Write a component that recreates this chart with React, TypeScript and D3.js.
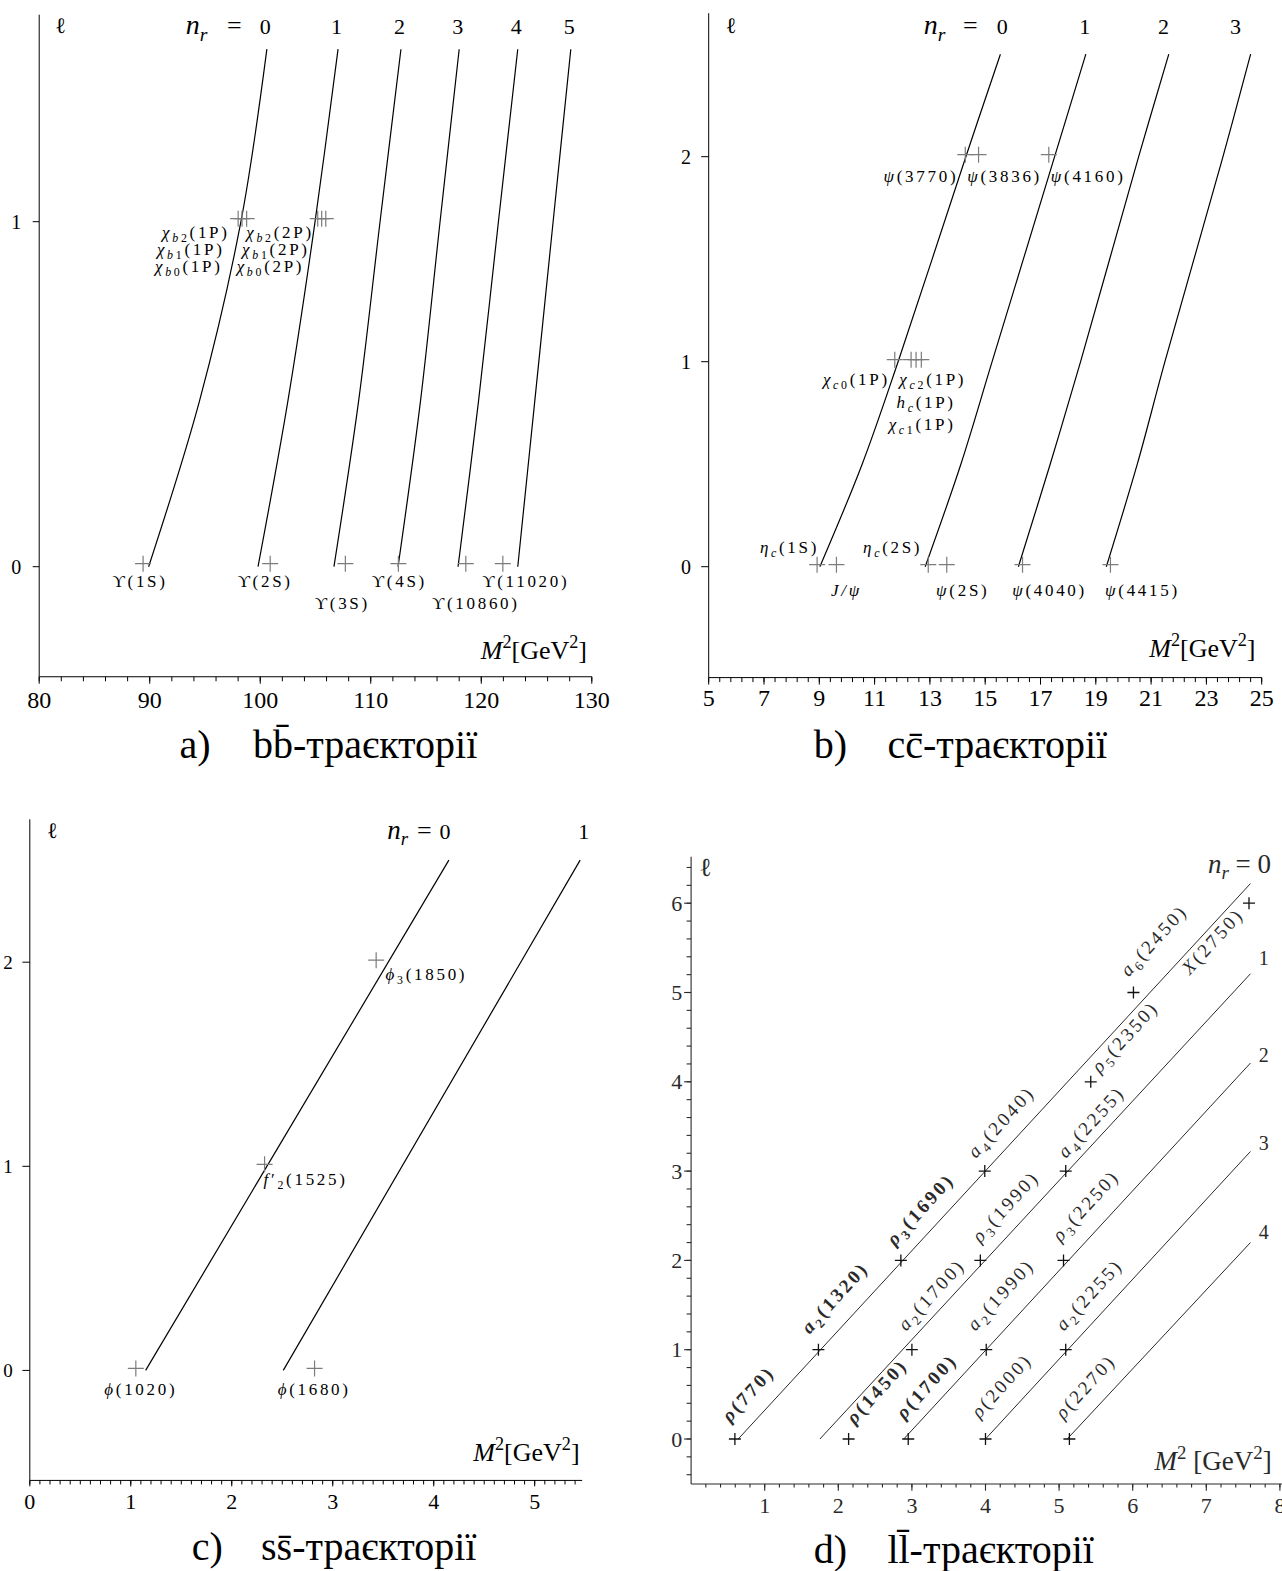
import React from 'react';
import * as d3 from 'd3';

const SERIF = '"Liberation Serif", "DejaVu Serif", serif';

// ---------------- a) b b-bar ----------------
const bbEll = [0, 0.48, 1, 1.5];
const bbTraj = [
  [89.9, 94.5, 98.25, 100.6],
  [99.8, 102.5, 104.96, 107.04],
  [106.67, 108.9, 110.84, 112.73],
  [112.47, 114.5, 116.27, 118.0],
  [117.9, 119.75, 121.55, 123.3],
  [123.3, 124.84, 126.5, 128.1],
];
const bbNr = ['0', '1', '2', '3', '4', '5'];
const bbNames = [
  'ϒ(1S)', 'ϒ(2S)', 'ϒ(3S)', 'ϒ(4S)', 'ϒ(10860)', 'ϒ(11020)',
  '$χ$_{$b$0}(1P)', '$χ$_{$b$1}(1P)', '$χ$_{$b$2}(1P)',
  '$χ$_{$b$0}(2P)', '$χ$_{$b$1}(2P)', '$χ$_{$b$2}(2P)',
];
const bbM2 = [89.4, 100.9, 107.7, 112.5, 118.6, 121.95, 98.0, 98.35, 98.77, 105.2, 105.56, 105.93];
const bbL = [0, 0, 0, 0, 0, 0, 1, 1, 1, 1, 1, 1];

// ---------------- b) c c-bar ----------------
const ccEll = [0, 0.5, 1, 2, 2.5];
const ccTraj = [
  [9.02, 10.55, 11.85, 14.3, 15.55],
  [12.83, 14.12, 15.25, 17.51, 18.64],
  [16.2, 17.35, 18.45, 20.55, 21.64],
  [19.38, 20.5, 21.5, 23.6, 24.6],
];
const ccNr = ['0', '1', '2', '3'];
const ccNrAt = [15.62, 18.6, 21.45, 24.05];
const ccNames = [
  '$η$_{$c$}(1S)', '$J/ψ$', '$η$_{$c$}(2S)', '$ψ$(2S)', '$ψ$(4040)', '$ψ$(4415)',
  '$χ$_{$c$0}(1P)', '$χ$_{$c$1}(1P)', '$h$_{$c$}(1P)', '$χ$_{$c$2}(1P)',
  '$ψ$(3770)', '$ψ$(3836)', '$ψ$(4160)',
];
const ccM2 = [8.92, 9.62, 12.94, 13.61, 16.35, 19.53, 11.73, 12.32, 12.5, 12.69, 14.28, 14.76, 17.3];
const ccL = [0, 0, 0, 0, 0, 0, 1, 1, 1, 1, 2, 2, 2];

// ---------------- c) s s-bar ----------------
const ssStart = [1.147, 2.51];
const ssEnd = [4.15, 5.45];
const ssEndEll = [2.5, 2.5];
const ssNames = ['$ϕ$(1020)', '$ϕ$(1680)', '$f$′_{2}(1525)', '$ϕ$_{3}(1850)'];
const ssM2 = [1.05, 2.82, 2.325, 3.43];
const ssL = [0, 0, 1, 2];

// ---------------- d) l l-bar ----------------
const llStart = [0.64, 1.75, 2.89, 4.0, 5.11];
const llEnd = [7.6, 7.6, 7.6, 7.6, 7.6];
const llEndEll = [6.22, 5.21, 4.21, 3.22, 2.2];
const llNr = ['1', '2', '3', '4'];
const llNames = [
  '$ρ$(770)', '$ρ$(1450)', '$ρ$(1700)', '$ρ$(2000)', '$ρ$(2270)',
  '$a$_{2}(1320)', '$a$_{2}(1700)', '$a$_{2}(1990)', '$a$_{2}(2255)',
  '$ρ$_{3}(1690)', '$ρ$_{3}(1990)', '$ρ$_{3}(2250)',
  '$a$_{4}(2040)', '$a$_{4}(2255)', '$ρ$_{5}(2350)', '$a$_{6}(2450)', '$X$(2750)',
];
const llM2 = [0.595, 2.14, 2.95, 4.0, 5.14, 1.73, 3.0, 4.01, 5.09, 2.85, 3.93, 5.06, 3.99, 5.09, 5.43, 6.01, 7.58];
const llL = [0, 0, 0, 0, 0, 1, 1, 1, 1, 2, 2, 2, 3, 3, 4, 5, 6];
const llBold = [1, 1, 1, 0, 0, 1, 0, 0, 0, 1, 0, 0, 0, 0, 0, 0, 0];

// label placement (px offsets from the point)
const bbPlace: [number, number, string][] = [
  [-3, 20, 'middle'], [-5, 20, 'middle'], [-3, 42, 'middle'], [1, 20, 'middle'], [10, 42, 'middle'], [23, 20, 'middle'],
  [-15.6, 50, 'end'], [-17.5, 33, 'end'], [-17, 16, 'end'],
  [-13.5, 50, 'end'], [-12, 33, 'end'], [-12, 16, 'end'],
];
const ccPlace: [number, number, string][] = [
  [2, -14, 'end'], [10, 29, 'middle'], [-6, -14, 'end'], [16, 29, 'middle'], [27, 29, 'middle'], [32, 29, 'middle'],
  [-5, 23, 'end'], [11, 68, 'middle'], [10, 46, 'middle'], [-22, 23, 'start'],
  [-7, 25, 'end'], [-11.4, 25, 'start'], [2, 25, 'start'],
];
const ssPlace: [number, number, string][] = [
  [5, 24.6, 'middle'], [-0.4, 24.6, 'middle'], [-1, 19, 'start'], [9.4, 18, 'start'],
];
const llPlace: [number, number, string][] = [
  [-5, -16, 'start'], [6, -14, 'start'], [-4, -19, 'start'], [-6, -20, 'start'], [-6, -19, 'start'],
  [-9, -15, 'start'], [-6, -18, 'start'], [-11, -18, 'start'], [-2, -18, 'start'],
  [-6, -14, 'start'], [0, -17, 'start'], [-3, -18, 'start'],
  [-9, -12, 'start'], [0, -12, 'start'], [9, -8, 'start'], [-5, -15, 'start'], [-4, 12, 'end'],
];

// tiny markup: $..$ italic, _{..} subscript, ^{..} superscript
function rich(s: string, size: number) {
  const out: any[] = [];
  let shift = 0;
  let k = 0;
  const push = (text: string, italic: boolean, level: number) => {
    const target = level * size * 0.24;
    const dy = target - shift;
    shift = target;
    out.push(
      <tspan key={k++} dy={dy ? dy : undefined} fontStyle={italic ? 'italic' : undefined}
        fontSize={level ? size * 0.7 : undefined}>{text}</tspan>
    );
  };
  const walk = (str: string, level: number) => {
    const re = /\$([^$]*)\$|_\{([^}]*)\}|\^\{([^}]*)\}|([^$_^]+)/g;
    let m: any;
    while ((m = re.exec(str))) {
      if (m[1] !== undefined) push(m[1], true, level);
      else if (m[2] !== undefined) walk(m[2], 1);
      else if (m[3] !== undefined) walk(m[3], -1.7);
      else push(m[4], false, level);
    }
  };
  walk(s, 0);
  return out;
}

function T({ x, y, s, size, anchor = 'middle', spacing = 0, bold = false, rotate = 0, fill = '#000', font = SERIF }: any) {
  return (
    <text x={x} y={y} fontSize={size} fontFamily={font} textAnchor={anchor} letterSpacing={spacing || undefined}
      fontWeight={bold ? 'bold' : undefined} fill={fill}
      transform={rotate ? `rotate(${rotate},${x},${y})` : undefined}>{rich(s, size)}</text>
  );
}

function Cross({ x, y, h, color, w = 1.2 }: any) {
  return <path d={`M${x - h},${y}H${x + h}M${x},${y - h}V${y + h}`} stroke={color} strokeWidth={w} fill="none" />;
}

function BottomAxis({ scale, y, x0, x1, major, minor, majorLen, minorLen, labelY, size, color = '#000', sw = 1 }: any) {
  return (
    <g>
      <g stroke={color} strokeWidth={sw}>
        <line x1={x0} x2={x1} y1={y} y2={y} />
        {minor.map((v: number, i: number) => (
          <line key={'n' + i} x1={scale(v)} x2={scale(v)} y1={y} y2={y + minorLen} />
        ))}
        {major.map((v: number, i: number) => (
          <line key={'j' + i} x1={scale(v)} x2={scale(v)} y1={y} y2={y + majorLen} />
        ))}
      </g>
      {major.map((v: number, i: number) => (
        <text key={'t' + i} x={scale(v)} y={labelY} fontSize={size} fontFamily={SERIF} textAnchor="middle" fill={color}>{v}</text>
      ))}
    </g>
  );
}

function LeftAxis({ scale, x, y0, y1, major, minor = [], majorLen, minorLen = 0, labelX, size, dy, color = '#000', sw = 1 }: any) {
  return (
    <g>
      <g stroke={color} strokeWidth={sw}>
        <line x1={x} x2={x} y1={y0} y2={y1} />
        {minor.map((v: number, i: number) => (
          <line key={'n' + i} x1={x - minorLen} x2={x} y1={scale(v)} y2={scale(v)} />
        ))}
        {major.map((v: number, i: number) => (
          <line key={'j' + i} x1={x - majorLen} x2={x} y1={scale(v)} y2={scale(v)} />
        ))}
      </g>
      {major.map((v: number, i: number) => (
        <text key={'t' + i} x={labelX} y={scale(v) + dy} fontSize={size} fontFamily={SERIF} textAnchor="middle" fill={color}>{v}</text>
      ))}
    </g>
  );
}

const GREY = '#7c7c7c';
const LABEL = 17;
const SPACE = 2.7;

function PanelA() {
  const x = d3.scaleLinear().domain([80, 130]).range([39.2, 591.8]);
  const y = d3.scaleLinear().domain([0, 1]).range([566.7, 221.7]);
  const line = d3.line<number>().x((d) => x(d)).y((_, i) => y(bbEll[i])).curve(d3.curveCatmullRom.alpha(0.5));
  return (
    <g>
      <LeftAxis scale={y} x={x(80)} y0={y(1.6)} y1={y(-0.319)} major={[0, 1]} majorLen={6.5} labelX={16.3} size={20} dy={7} />
      <BottomAxis scale={x} y={y(-0.319)} x0={x(80)} x1={x(130)} major={d3.range(80, 131, 10)} minor={d3.range(80, 130.1, 2)}
        majorLen={7} minorLen={4.5} labelY={708} size={24} />
      {bbTraj.map((t, i) => <path key={i} d={line(t) || ''} fill="none" stroke="#000" strokeWidth={1.2} />)}
      {bbM2.map((m, i) => <Cross key={i} x={x(m)} y={y(bbL[i]) - 3} h={8} color={GREY} />)}
      {bbNames.map((s, i) => (
        <T key={i} x={x(bbM2[i]) + bbPlace[i][0]} y={y(bbL[i]) + bbPlace[i][1]} s={s} size={LABEL} spacing={SPACE} anchor={bbPlace[i][2]} />
      ))}
      {bbNr.map((s, i) => (
        <T key={i} x={x(bbTraj[i][3]) - 1.5} y={34} s={s} size={22} />
      ))}
      <T x={x(bbTraj[0][3]) - 1.5 - 58} y={34} s="$n$_{$r$}" size={28} anchor="end" />
      <T x={x(bbTraj[0][3]) - 1.5 - 31} y={34} s="=" size={26} />
      <T x={60.4} y={33} s="ℓ" size={22} font='"DejaVu Serif", serif' />
      <T x={587} y={659} s="$M$^{2}[GeV^{2}]" size={26} anchor="end" />
      <T x={179.6} y={758} s="a)" size={40} anchor="start" />
      <T x={253} y={758} s="bb̄-траєкторії" size={40} anchor="start" />
    </g>
  );
}

function PanelB() {
  const x = d3.scaleLinear().domain([5, 25]).range([708.7, 1261.7]);
  const y = d3.scaleLinear().domain([0, 1]).range([566.7, 361.7]);
  const line = d3.line<number>().x((d) => x(d)).y((_, i) => y(ccEll[i])).curve(d3.curveCatmullRom.alpha(0.5));
  return (
    <g>
      <LeftAxis scale={y} x={x(5)} y0={y(2.7)} y1={y(-0.541)} major={[0, 1, 2]} majorLen={7.5} labelX={686} size={20} dy={7} />
      <BottomAxis scale={x} y={y(-0.541)} x0={x(5)} x1={x(25)} major={d3.range(5, 26, 2)} minor={d3.range(5, 25.01, 0.4)}
        majorLen={7} minorLen={4.5} labelY={706} size={24} />
      {ccTraj.map((t, i) => <path key={i} d={line(t) || ''} fill="none" stroke="#000" strokeWidth={1.2} />)}
      {ccM2.map((m, i) => <Cross key={i} x={x(m)} y={y(ccL[i]) - 2} h={8} color={GREY} />)}
      {ccNames.map((s, i) => (
        <T key={i} x={x(ccM2[i]) + ccPlace[i][0]} y={y(ccL[i]) + ccPlace[i][1]} s={s} size={LABEL} spacing={SPACE} anchor={ccPlace[i][2]} />
      ))}
      {ccNr.map((s, i) => (
        <T key={i} x={x(ccNrAt[i])} y={34} s={s} size={22} />
      ))}
      <T x={x(ccNrAt[0]) - 57} y={34} s="$n$_{$r$}" size={28} anchor="end" />
      <T x={x(ccNrAt[0]) - 32} y={34} s="=" size={26} />
      <T x={731} y={33} s="ℓ" size={22} font='"DejaVu Serif", serif' />
      <T x={1255.5} y={657} s="$M$^{2}[GeV^{2}]" size={26} anchor="end" />
      <T x={813.8} y={758} s="b)" size={40} anchor="start" />
      <T x={887.4} y={758} s="cc̄-траєкторії" size={40} anchor="start" />
    </g>
  );
}

function PanelC() {
  const x = d3.scaleLinear().domain([0, 5]).range([29.8, 534.7]);
  const y = d3.scaleLinear().domain([0, 1]).range([1370.4, 1166.3]);
  return (
    <g>
      <LeftAxis scale={y} x={x(0)} y0={y(2.7)} y1={y(-0.539)} major={[0, 1, 2]} majorLen={7.4} labelX={8} size={19} dy={6.5} />
      <BottomAxis scale={x} y={y(-0.539)} x0={x(0)} x1={x(5.47)} major={d3.range(0, 6, 1)} minor={d3.range(0, 5.46, 0.1)}
        majorLen={6} minorLen={4} labelY={1509} size={22} />
      {ssStart.map((s0, i) => (
        <line key={i} x1={x(s0)} y1={y(0)} x2={x(ssEnd[i])} y2={y(ssEndEll[i])} stroke="#000" strokeWidth={1.2} />
      ))}
      {ssM2.map((m, i) => <Cross key={i} x={x(m)} y={y(ssL[i]) - 2} h={8} color={GREY} />)}
      {ssNames.map((s, i) => (
        <T key={i} x={x(ssM2[i]) + ssPlace[i][0]} y={y(ssL[i]) + ssPlace[i][1]} s={s} size={LABEL} spacing={SPACE} anchor={ssPlace[i][2]} />
      ))}
      <T x={408} y={839} s="$n$_{$r$}" size={27} anchor="end" />
      <T x={424.4} y={839} s="=" size={26} />
      <T x={445} y={839} s="0" size={22} />
      <T x={583.7} y={839} s="1" size={22} />
      <T x={52.2} y={838} s="ℓ" size={22} font='"DejaVu Serif", serif' />
      <T x={579.6} y={1461} s="$M$^{2}[GeV^{2}]" size={26} anchor="end" />
      <T x={191.8} y={1560} s="c)" size={40} anchor="start" />
      <T x={261} y={1560} s="ss̄-траєкторії" size={40} anchor="start" />
    </g>
  );
}

function PanelD() {
  const x = d3.scaleLinear().domain([0, 8]).range([691.1, 1279.9]);
  const y = d3.scaleLinear().domain([0, 1]).range([1439, 1349.7]);
  const ink = '#2a2a2a';
  return (
    <g>
      <LeftAxis scale={y} x={x(0)} y0={y(6.52)} y1={y(-0.504)} major={d3.range(0, 7, 1)} minor={d3.range(-0.4, 6.41, 0.2)}
        majorLen={7} minorLen={4.5} labelX={676.8} size={22} dy={7.5} color={ink} sw={1.1} />
      <BottomAxis scale={x} y={y(-0.504)} x0={x(0)} x1={1282} major={d3.range(1, 9, 1)} minor={d3.range(0.2, 8.01, 0.2)}
        majorLen={6.7} minorLen={3.5} labelY={1512.5} size={22} color={ink} sw={1.1} />
      {llStart.map((s0, i) => (
        <line key={i} x1={x(s0)} y1={y(0)} x2={x(llEnd[i])} y2={y(llEndEll[i])} stroke={ink} strokeWidth={1} />
      ))}
      {llM2.map((m, i) => <Cross key={i} x={x(m)} y={y(llL[i])} h={6} color="#111" w={1.3} />)}
      {llNames.map((s, i) => {
        const px = x(llM2[i]) + llPlace[i][0];
        const py = y(llL[i]) + llPlace[i][1];
        return <T key={i} x={px} y={py} s={s} size={19} spacing={2.8} bold={!!llBold[i]} anchor={llPlace[i][2]} rotate={-47.5} fill={ink} />;
      })}
      <T x={1271} y={873} s="$n$_{$r$} = 0" size={27} anchor="end" fill={ink} />
      {llNr.map((s, i) => (
        <T key={i} x={1263.7} y={[965, 1062, 1150, 1239][i]} s={s} size={20} fill={ink} />
      ))}
      <T x={705.4} y={876} s="ℓ" size={26} font='"DejaVu Serif", serif' fill={ink} />
      <T x={1154.5} y={1470} s="$M$^{2} [GeV^{2}]" size={27} anchor="start" fill={ink} />
      <T x={813.8} y={1563} s="d)" size={40} anchor="start" />
      <T x={887.4} y={1563} s="ll̄-траєкторії" size={40} anchor="start" />
    </g>
  );
}

export default function App() {
  return (
    <svg width={1282} height={1571} viewBox="0 0 1282 1571"
      style={{ position: 'absolute', left: 0, top: 0, background: '#fff' }}>
      <rect width={1282} height={1571} fill="#fff" />
      <PanelA />
      <PanelB />
      <PanelC />
      <PanelD />
    </svg>
  );
}
